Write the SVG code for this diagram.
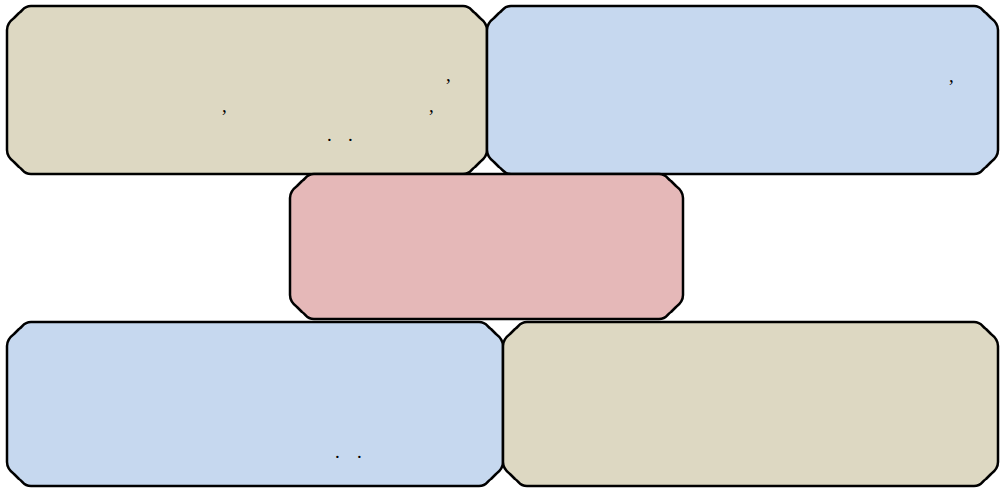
<svg xmlns="http://www.w3.org/2000/svg" width="1002" height="488" viewBox="0 0 1002 488">
<style>
.box{stroke:#000;stroke-width:2.5;stroke-linejoin:round}
.tan{fill:#ddd8c2}
.blue{fill:#c6d8ef}
.pink{fill:#e5b8b8}
.t{font-family:"Liberation Serif","Times New Roman",serif;font-size:19px;fill:#000}
</style>
<rect width="1002" height="488" fill="#fff"/>
<g id="connectors"></g>
<g id="node1" transform="translate(7,6)">
<path class="box tan" d="M24,0 H456 C464,0 464,5 468,7 L473,12 C477,15 480,18 480,24 V144 C480,150 477,153 473,156 L468,161 C464,163 464,168 456,168 H24 C16,168 16,163 12,161 L7,156 C3,153 0,150 0,144 V24 C0,18 3,15 7,12 L12,7 C16,5 16,0 24,0 Z"/>
<text class="t" x="439" y="75">,</text>
<text class="t" x="215" y="106">,</text>
<text class="t" x="422" y="106">,</text>
<text class="t" x="320" y="135">.</text>
<text class="t" x="341" y="135">.</text>
</g>
<g id="node2" transform="translate(487,6)">
<path class="box blue" d="M24,0 H487 C495,0 495,5 499,7 L504,12 C508,15 511,18 511,24 V144 C511,150 508,153 504,156 L499,161 C495,163 495,168 487,168 H24 C16,168 16,163 12,161 L7,156 C3,153 0,150 0,144 V24 C0,18 3,15 7,12 L12,7 C16,5 16,0 24,0 Z"/>
<text class="t" x="462" y="76">,</text>
</g>
<g id="node4" transform="translate(7,322)">
<path class="box blue" d="M24,0 H472 C480,0 480,5 484,7 L489,12 C493,15 496,18 496,24 V140 C496,146 493,149 489,152 L484,157 C480,159 480,164 472,164 H24 C16,164 16,159 12,157 L7,152 C3,149 0,146 0,140 V24 C0,18 3,15 7,12 L12,7 C16,5 16,0 24,0 Z"/>
<text class="t" x="328" y="136">.</text>
<text class="t" x="350" y="136">.</text>
</g>
<g id="node5" transform="translate(503,322)">
<path class="box tan" d="M24,0 H471 C479,0 479,5 483,7 L488,12 C492,15 495,18 495,24 V140 C495,146 492,149 488,152 L483,157 C479,159 479,164 471,164 H24 C16,164 16,159 12,157 L7,152 C3,149 0,146 0,140 V24 C0,18 3,15 7,12 L12,7 C16,5 16,0 24,0 Z"/>
</g>
<g id="node3" transform="translate(290,174)">
<path class="box pink" d="M24,0 H369 C377,0 377,5 381,7 L386,12 C390,15 393,18 393,24 V121 C393,127 390,130 386,133 L381,138 C377,140 377,145 369,145 H24 C16,145 16,140 12,138 L7,133 C3,130 0,127 0,121 V24 C0,18 3,15 7,12 L12,7 C16,5 16,0 24,0 Z"/>
</g>
</svg>
